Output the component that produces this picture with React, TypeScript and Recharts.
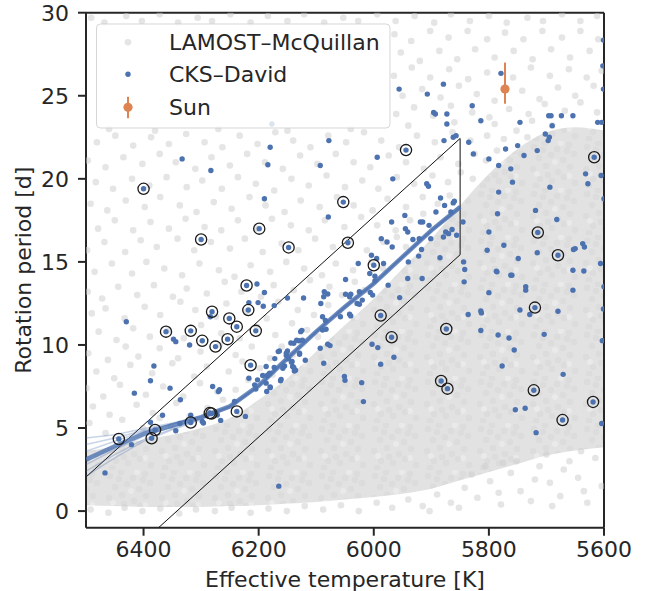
import React from 'react';
import { ComposedChart, Scatter, Area, XAxis, YAxis, ReferenceLine, ErrorBar } from 'recharts';

const FONT = '"DejaVu Sans", sans-serif';
const INK = '#262626';
const BLUE = '#4c72b0';
const ORANGE = '#dd8452';

const xTicks = [6400, 6200, 6000, 5800, 5600];
const yTicks = [0, 5, 10, 15, 20, 25, 30];

// crowded part of the LAMOST cloud (lower / upper edge of the densest region)
const denseT = [6500, 6450, 6400, 6350, 6300, 6250, 6200, 6150, 6100, 6050, 6000, 5950, 5900, 5850, 5800, 5750, 5700, 5650, 5600];
const denseLo = [0.35, 0.3, 0.25, 0.25, 0.25, 0.3, 0.35, 0.45, 0.55, 0.7, 0.85, 1.05, 1.35, 1.85, 2.35, 2.85, 3.35, 3.65, 3.85];
const denseHi = [3.6, 3.9, 4.3, 4.6, 5.0, 5.6, 6.7, 8.0, 9.6, 11.2, 12.8, 14.6, 16.4, 18.4, 20.3, 21.8, 22.8, 23.1, 22.9];

// sparse LAMOST stars (Teff, Prot)
const lamostUpperLeft: number[][] = [
  [6494, 5.3], [6466, 4.7], [6437, 5.5], [6401, 5.0], [6372, 5.6], [6352, 5.1],
  [6488, 6.3], [6459, 5.8], [6412, 6.4], [6384, 5.9], [6343, 6.5], [6320, 5.7], [6289, 6.2], [6262, 6.7],
  [6499, 7.4], [6470, 6.9], [6441, 7.6], [6396, 7.0], [6366, 7.5], [6331, 6.9], [6302, 7.7], [6272, 7.2], [6240, 7.3], [6218, 7.9],
  [6482, 8.4], [6451, 8.0], [6423, 8.8], [6385, 8.3], [6350, 8.9], [6312, 8.1], [6290, 8.7], [6252, 8.4], [6228, 9.0], [6198, 8.6], [6176, 8.2],
  [6496, 9.5], [6462, 9.1], [6431, 9.9], [6409, 9.3], [6372, 9.8], [6340, 9.2], [6301, 9.6], [6268, 10.0], [6240, 9.4], [6212, 9.9], [6180, 9.2], [6160, 9.9], [6141, 9.4],
  [6478, 10.8], [6447, 10.3], [6418, 11.0], [6389, 10.5], [6357, 10.9], [6330, 10.4], [6300, 11.2], [6265, 10.7], [6233, 10.4], [6203, 11.1], [6171, 10.6], [6142, 11.3], [6116, 10.9], [6097, 10.5],
  [6490, 11.9], [6466, 12.2], [6433, 11.6], [6398, 12.3], [6371, 11.8], [6336, 12.6], [6310, 12.1], [6274, 11.7], [6256, 12.5], [6221, 12.0], [6186, 11.6], [6166, 12.6], [6132, 12.1], [6104, 11.8], [6079, 12.4], [6060, 11.9],
  [6497, 13.2], [6472, 12.8], [6444, 13.5], [6411, 13.0], [6382, 13.6], [6349, 12.9], [6325, 13.4], [6290, 13.1], [6259, 13.8], [6230, 13.2], [6196, 12.9], [6174, 13.6], [6139, 13.3], [6111, 13.9], [6077, 13.5], [6055, 13.0], [6033, 13.8], [6016, 13.3],
  [6485, 14.4], [6455, 14.9], [6420, 14.3], [6395, 15.0], [6364, 14.6], [6333, 14.2], [6303, 14.9], [6269, 14.5], [6242, 14.1], [6214, 14.8], [6180, 14.4], [6152, 15.0], [6121, 14.6], [6090, 14.2], [6066, 14.9], [6036, 14.5], [6004, 15.0], [5984, 14.6],
  [6498, 15.7], [6468, 16.2], [6432, 15.6], [6405, 16.3], [6377, 15.9], [6341, 16.4], [6312, 15.7], [6283, 16.2], [6250, 15.8], [6224, 16.4], [6193, 15.6], [6160, 16.1], [6131, 15.7], [6102, 16.4], [6071, 15.9], [6043, 16.3], [6012, 15.7], [5983, 16.2], [5960, 16.5], [5944, 15.9],
  [6479, 17.0], [6450, 17.5], [6418, 16.9], [6388, 17.4], [6356, 17.0], [6327, 17.6], [6294, 17.1], [6265, 16.9], [6236, 17.5], [6204, 17.0], [6177, 17.6], [6144, 17.2], [6113, 16.9], [6085, 17.5], [6051, 17.1], [6022, 17.7], [5994, 17.2], [5962, 16.9], [5937, 17.5], [5914, 17.9],
  [6492, 18.5], [6463, 18.1], [6431, 18.7], [6398, 18.3], [6371, 18.9], [6337, 18.4], [6308, 18.0], [6278, 18.6], [6247, 18.2], [6216, 18.9], [6188, 18.4], [6155, 18.0], [6127, 18.7], [6094, 18.3], [6064, 18.9], [6035, 18.4], [6002, 18.1], [5976, 18.8], [5944, 18.3], [5915, 18.9], [5889, 18.5], [5868, 19.0],
  [6483, 19.8], [6453, 19.4], [6420, 20.0], [6390, 19.6], [6360, 20.1], [6325, 19.5], [6298, 19.9], [6264, 19.4], [6236, 20.1], [6205, 19.7], [6173, 19.3], [6143, 20.0], [6113, 19.6], [6082, 20.2], [6050, 19.5], [6020, 19.9], [5992, 19.4], [5960, 20.1], [5930, 19.7], [5898, 20.2], [5871, 19.8], [5849, 20.4], [5828, 20.0],
  [6497, 21.1], [6466, 20.7], [6435, 21.3], [6402, 20.9], [6372, 21.5], [6344, 21.0], [6310, 20.6], [6282, 21.3], [6250, 20.8], [6220, 21.5], [6189, 21.0], [6158, 20.6], [6128, 21.4], [6098, 20.9], [6066, 21.5], [6035, 21.0], [6006, 20.7], [5974, 21.4], [5944, 21.0], [5913, 20.6], [5884, 21.3], [5853, 20.9], [5825, 21.5], [5805, 21.1], [5786, 21.7],
  [6481, 22.2], [6449, 22.6], [6418, 22.0], [6387, 22.5], [6356, 22.1], [6326, 22.7], [6294, 22.2], [6263, 21.9], [6233, 22.6], [6202, 22.1], [6171, 22.8], [6140, 22.3], [6110, 21.9], [6079, 22.6], [6048, 22.2], [6017, 22.8], [5987, 22.3], [5956, 21.9], [5925, 22.6], [5894, 22.2], [5863, 22.8], [5832, 22.3], [5803, 22.6], [5774, 22.4], [5752, 22.9], [5733, 22.5],
  [6460, 23.0], [6380, 22.9], [6270, 23.0], [6150, 22.9], [6040, 23.0], [5940, 23.2], [5860, 23.4], [5790, 23.3], [5725, 23.5], [5690, 23.2],
];

const lamostUpperRight: number[][] = [
  [5961, 23.9], [5930, 24.3], [5897, 23.8], [5866, 24.4], [5829, 24.0], [5799, 23.7], [5765, 24.2], [5731, 23.9], [5703, 24.5], [5668, 24.1], [5641, 24.6], [5612, 24.0],
  [5950, 25.0], [5916, 25.4], [5884, 24.9], [5852, 25.6], [5821, 25.1], [5790, 24.7], [5742, 25.3], [5712, 24.8], [5680, 25.5], [5650, 25.0], [5618, 25.6],
  [5965, 26.2], [5934, 26.7], [5902, 26.1], [5869, 26.6], [5836, 26.0], [5803, 26.4], [5758, 26.1], [5727, 26.7], [5694, 26.2], [5661, 26.6], [5630, 26.1], [5604, 26.5],
  [5953, 27.6], [5920, 27.1], [5886, 27.7], [5855, 27.2], [5824, 27.8], [5790, 27.3], [5757, 27.7], [5724, 27.2], [5692, 27.8], [5659, 27.3], [5625, 27.7],
  [5964, 28.7], [5935, 28.3], [5902, 28.9], [5870, 28.5], [5837, 28.9], [5803, 28.4], [5772, 28.8], [5740, 28.4], [5707, 28.9], [5673, 28.5], [5641, 28.9], [5610, 28.4],
  [6491, 29.7], [6468, 29.4], [6430, 29.8], [6403, 29.5], [6372, 29.9], [6340, 29.4], [6306, 29.7], [6281, 29.5], [6249, 29.9], [6214, 29.4], [6184, 29.8], [6150, 29.5],
  [6121, 29.9], [6086, 29.4], [6053, 29.7], [6027, 29.5], [5994, 29.9], [5962, 29.5], [5929, 29.8], [5895, 29.4], [5866, 29.9], [5833, 29.5], [5800, 29.8], [5769, 29.4],
  [5733, 29.7], [5706, 29.5], [5673, 29.9], [5641, 29.5], [5612, 29.8],
];

const lamostLower: number[][] = [
  [6492, 0.1], [6461, -0.1], [6433, 0.2], [6402, 0.0], [6371, 0.15], [6338, -0.15], [6309, 0.1], [6276, 0.0], [6247, 0.2], [6214, -0.1],
  [6183, 0.15], [6151, 0.0], [6120, 0.3], [6088, 0.1], [6057, 0.35], [6026, 0.0], [5995, 0.5], [5968, 0.2], [5940, 0.7], [5915, 0.3],
  [5890, 1.0], [5866, 0.5], [5842, 1.4], [5820, 0.8], [5798, 1.8], [5779, 0.4], [5762, 2.3], [5745, 1.2], [5727, 0.6], [5712, 2.7],
  [5694, 1.7], [5676, 0.9], [5660, 3.0], [5645, 2.0], [5629, 0.5], [5615, 3.2], [5604, 1.5], [5752, 3.0], [5806, 2.7], [5690, 0.3],
  [5635, 1.2], [5670, 2.5], [5720, 1.9], [5783, 1.1], [5852, 0.2], [5903, 0.0], [5640, 3.6], [5700, 3.4], [5775, 2.9], [5830, 2.2],
];

// CKS stars (Teff, Prot)
const cksPts: number[][] = [
  [6333, 21.2], [6283, 20.5], [6400, 19.4], [6300, 16.35], [6199, 17.0], [6180, 21.9], [6184, 20.85], [6190, 18.8], [6148, 15.87],
  [6093, 20.8], [6078, 22.3], [6079, 17.7], [6221, 13.58], [6203, 13.67], [6190, 13.16], [6150, 12.83], [6122, 12.83], [6087, 12.9], [6177, 23.3],
  [5956, 25.4], [5907, 25.1], [5896, 24.0], [5994, 21.3], [5944, 21.73], [5967, 20.0], [5908, 19.7], [5905, 19.55], [6053, 18.6], [6045, 16.15],
  [5946, 17.8], [5969, 17.4], [5919, 17.4], [5915, 17.4], [5945, 17.0], [5941, 16.8], [5904, 17.2], [5987, 16.4], [5977, 16.2], [5968, 15.9],
  [5932, 16.35], [5921, 16.4], [5901, 16.4], [5917, 15.75], [5922, 15.35], [6004, 15.4], [5995, 15.2], [6000, 14.8], [6027, 14.9], [5940, 15.0], [5983, 14.9],
  [5779, 26.35], [5879, 25.7], [5829, 24.4], [5893, 23.9], [5873, 23.9], [5873, 23.3], [5814, 23.5], [5746, 23.4], [5696, 23.8], [5692, 23.8],
  [5690, 23.2], [5674, 23.8], [5654, 23.8], [5702, 22.7], [5695, 22.5], [5697, 22.3], [5611, 23.4], [5604, 23.4], [5602, 26.8], [5601, 25.4], [5601, 28.35],
  [5862, 22.5], [5857, 22.6], [5878, 22.3], [5835, 22.2], [5827, 21.5], [5771, 21.8], [5750, 22.0], [5716, 21.7], [5739, 21.4], [5800, 21.2],
  [5783, 20.8], [5762, 20.6], [5617, 21.3], [5632, 20.3], [5628, 19.7], [5605, 20.2], [5759, 19.8], [5694, 19.5], [5783, 19.2], [5600, 18.8],
  [5719, 18.1], [5785, 17.9], [5715, 16.77], [5682, 17.55], [5800, 16.8], [5803, 15.7], [5774, 16.0], [5716, 15.55], [5680, 15.4], [5749, 15.2],
  [5653, 15.75], [5650, 15.8], [5637, 16.1], [5634, 15.9], [5654, 14.5], [5635, 14.45], [5606, 14.9], [5844, 15.0], [5845, 17.4], [5843, 13.8],
  [5786, 14.4], [5762, 14.2], [5736, 13.5], [5736, 13.3], [5800, 13.15], [5654, 13.3], [5600, 13.5],
  [5884, 18.85], [5877, 18.4], [5892, 18.0], [5862, 18.55], [5860, 18.65], [5866, 18.0], [5875, 16.8], [5864, 16.95], [5870, 16.7], [5856, 16.6], [5879, 16.5], [5885, 15.25],
  [6430, 11.4], [6361, 10.8], [6348, 10.35], [6344, 10.2], [6318, 10.85], [6320, 10.0], [6298, 10.25], [6281, 12.0], [6284, 11.7], [6275, 9.9],
  [6251, 11.6], [6238, 11.1], [6254, 10.35], [6217, 12.55], [6201, 12.55], [6218, 12.1], [6205, 10.85], [6382, 8.73], [6388, 7.85], [6416, 7.1],
  [6354, 7.4], [6336, 6.7], [6280, 7.5], [6270, 7.2], [6268, 7.3], [6214, 8.78], [6367, 5.77], [6388, 5.35], [6380, 4.88], [6386, 4.38],
  [6443, 4.34], [6421, 4.0], [6467, 2.3], [6344, 4.84], [6337, 5.27], [6318, 5.33], [6318, 5.77], [6298, 5.4], [6296, 5.3], [6285, 5.9],
  [6282, 5.87], [6272, 5.78], [6266, 5.46], [6238, 6.0], [6242, 6.6], [6223, 5.7], [6217, 8.0], [6202, 7.9],
  [6165, 1.5], [6207, 7.6], [6205, 7.35], [6185, 8.15], [6181, 8.3], [6173, 8.64], [6187, 7.7], [6180, 7.47], [6162, 7.85],
  [6166, 9.6], [6150, 9.64], [6152, 9.5], [6142, 9.0], [6139, 8.64], [6136, 8.48], [6129, 9.5], [6119, 9.08], [6139, 10.1], [6130, 10.25],
  [6124, 10.28], [6087, 8.9], [6093, 9.8],
  [6049, 13.94], [6007, 14.3], [5998, 14.14], [5998, 13.86], [5975, 13.6], [5941, 14.0], [5916, 14.0], [5955, 12.85], [5988, 11.77], [5969, 10.46],
  [6003, 10.04], [5993, 9.84], [5965, 9.26], [5988, 8.84], [6021, 7.73], [6018, 6.59], [6051, 8.1], [6050, 7.87], [6086, 13.2], [6080, 13.07],
  [6092, 12.5], [6173, 12.37], [6192, 12.33], [6049, 13.05], [6040, 13.05], [6042, 12.9], [6025, 13.2], [6006, 13.16], [6002, 13.0], [6020, 12.7],
  [6029, 12.5], [6025, 12.45], [6058, 11.7], [6042, 11.85], [6040, 11.75], [6089, 11.7], [6084, 11.47], [6089, 10.9], [6083, 10.95], [6127, 10.8],
  [6125, 10.88], [6134, 10.28], [6144, 10.12], [6080, 10.04], [6076, 9.96], [6164, 9.64], [6172, 9.18], [6152, 9.36], [6148, 9.16], [6129, 9.44],
  [6143, 8.96], [6141, 8.7], [6138, 8.43], [6155, 8.73], [6158, 8.6], [6187, 8.7], [6193, 8.16], [6184, 8.2], [6161, 7.93], [6186, 7.2], [6180, 7.43],
  [5842, 14.54], [5787, 14.44], [5760, 14.2], [5836, 11.83], [5814, 12.05], [5813, 11.93], [5874, 10.96], [5814, 10.87], [5784, 10.6], [5765, 10.42],
  [5756, 9.7], [5746, 12.1], [5720, 12.25], [5729, 11.83], [5680, 12.03], [5704, 10.64], [5601, 12.17], [5603, 10.26], [5777, 8.73], [5671, 8.23],
  [5883, 7.83], [5872, 7.37], [5722, 7.27], [5619, 6.57], [5754, 6.1], [5737, 6.19], [5672, 5.48], [5604, 5.27], [5718, 4.72],
];

// highlighted (circled) CKS stars
const ringPts: number[][] = [
  [6400, 19.4], [6300, 16.35], [6199, 17.0], [6148, 15.87], [6221, 13.58], [5944, 21.73], [6053, 18.6], [6045, 16.15], [6000, 14.8],
  [5617, 21.3], [5715, 16.77], [5680, 15.4], [6361, 10.8], [6318, 10.85], [6298, 10.25], [6281, 12.0], [6275, 9.9], [6251, 11.6],
  [6238, 11.1], [6254, 10.35], [6218, 12.1], [6205, 10.85], [6214, 8.78], [6380, 4.88], [6386, 4.38], [6443, 4.34], [6318, 5.33],
  [6285, 5.9], [6282, 5.87], [6238, 6.0], [5988, 11.77], [5969, 10.46], [5874, 10.96], [5720, 12.25], [5883, 7.83], [5872, 7.37],
  [5722, 7.27], [5619, 6.57], [5672, 5.48],
];

// fit: median and posterior draws
const fitT = [6500, 6450, 6400, 6350, 6300, 6250, 6200, 6150, 6100, 6050, 6000, 5950, 5900, 5850];
const fitMid = [3.1, 3.9, 4.65, 5.15, 5.65, 6.3, 7.55, 9.2, 10.8, 12.3, 13.7, 15.3, 16.9, 18.3];
const fitDraws: number[][] = [
  [2.4, 3.4, 4.3, 4.95, 5.55, 6.25, 7.5, 9.15, 10.75, 12.25, 13.65, 15.25, 16.85, 18.2],
  [4.4, 4.6, 4.95, 5.3, 5.7, 6.35, 7.6, 9.25, 10.85, 12.35, 13.75, 15.35, 16.95, 18.4],
  [3.6, 4.2, 4.8, 5.25, 5.7, 6.3, 7.55, 9.2, 10.8, 12.3, 13.7, 15.3, 16.9, 18.3],
  [2.8, 3.7, 4.5, 5.05, 5.6, 6.3, 7.55, 9.2, 10.8, 12.3, 13.7, 15.3, 16.9, 18.3],
  [4.0, 4.4, 4.85, 5.25, 5.65, 6.3, 7.5, 9.2, 10.8, 12.3, 13.7, 15.3, 16.9, 18.3],
  [2.1, 3.2, 4.2, 4.9, 5.5, 6.25, 7.5, 9.15, 10.75, 12.25, 13.7, 15.3, 16.85, 18.25],
];

// selection box corners
const boxT = [6500, 5850, 5850, 6374];
const boxP = [2.05, 22.43, 15.43, -1];

const sunT = 5772;
const sunP = 25.4;
const sunErr = [0.88, 1.6];

const toObj = (a: number[][]) => a.map(([T, P]) => ({ T, P }));
const denseTable = denseT.map((T, i) => ({ T, range: [denseLo[i], denseHi[i]] }));
const lamostData = toObj([...lamostUpperLeft, ...lamostUpperRight, ...lamostLower]);
const cksData = toObj(cksPts);
const ringData = toObj(ringPts);
const midData = fitT.map((T, i) => ({ T, P: fitMid[i] }));
const drawData = fitDraws.map((d) => fitT.map((T, i) => ({ T, P: d[i] })));
const boxData = boxT.map((T, i) => ({ T, P: boxP[i] }));
const sunData = [{ T: sunT, P: sunP, err: sunErr }];

const GrayDot = (p: any) => <circle cx={p.cx} cy={p.cy} r={3.3} fill="#cbcbcb" fillOpacity={0.5} />;
const BlueDot = (p: any) => <circle cx={p.cx} cy={p.cy} r={2.7} fill={BLUE} />;
const Ring = (p: any) => <circle cx={p.cx} cy={p.cy} r={5.6} fill="none" stroke="#1a1a1a" strokeWidth={1.3} />;
const SunDot = (p: any) => <circle cx={p.cx} cy={p.cy} r={4.6} fill={ORANGE} />;
const NoDot = () => <g />;

const tickStyle = { fill: INK, fontSize: 22, fontFamily: FONT };

// mottled texture used to fill the crowded region of the cloud
const speckle = [
  [4, 6], [15, 2], [27, 8], [39, 4], [9, 17], [21, 14], [33, 19], [44, 13], [3, 28], [16, 25], [28, 31], [40, 26],
  [10, 38], [22, 40], [34, 36], [45, 42], [6, 45], [18, 34], [37, 10], [13, 9],
];
const holes = [[25, 21], [39, 35], [7, 33], [31, 2]];

export default function App() {
  return (
    <div style={{ position: 'absolute', left: 0, top: 0, width: 648, height: 591, background: '#fff' }}>
      <svg width={0} height={0} style={{ position: 'absolute' }}>
        <defs>
          <pattern id="lamostDense" width={53} height={47} patternUnits="userSpaceOnUse">
            <rect width={53} height={47} fill="#e2e2e2" />
            {holes.map(([x, y], i) => (
              <circle key={'h' + i} cx={x} cy={y} r={3} fill="#eaeaea" />
            ))}
            {speckle.map(([x, y], i) => (
              <circle key={'s' + i} cx={x} cy={y} r={3.3} fill="#cfcfcf" fillOpacity={0.3} />
            ))}
          </pattern>
        </defs>
      </svg>
      <ComposedChart
        width={648}
        height={591}
        data={denseTable}
        margin={{ top: 12.7, right: 44, bottom: 0, left: 0 }}
      >
        <XAxis
          type="number"
          dataKey="T"
          domain={[5600, 6500]}
          reversed
          allowDataOverflow
          ticks={xTicks}
          interval={0}
          height={63.3}
          tickSize={8}
          tickMargin={6}
          axisLine={{ stroke: INK, strokeWidth: 2 }}
          tickLine={{ stroke: INK, strokeWidth: 2 }}
          tick={tickStyle}
          label={{ value: 'Effective temperature [K]', position: 'insideBottom', offset: 4.5, fill: INK, fontSize: 22, fontFamily: FONT }}
        />
        <YAxis
          type="number"
          dataKey="P"
          domain={[-1, 30]}
          allowDataOverflow
          ticks={yTicks}
          interval={0}
          width={86}
          tickSize={8}
          tickMargin={9}
          axisLine={{ stroke: INK, strokeWidth: 2 }}
          tickLine={{ stroke: INK, strokeWidth: 2 }}
          tick={tickStyle}
          label={{ value: 'Rotation period [d]', angle: -90, position: 'insideLeft', offset: 23, fill: INK, fontSize: 22, fontFamily: FONT, style: { textAnchor: 'middle' } }}
        />
        <Area dataKey="range" type="monotone" stroke="none" fill="url(#lamostDense)" fillOpacity={1} isAnimationActive={false} dot={false} activeDot={false} />
        <Scatter data={lamostData} shape={GrayDot} isAnimationActive={false} />
        <Scatter data={boxData} shape={NoDot} line={{ stroke: '#111111', strokeWidth: 1 }} lineType="joint" fill="#111111" isAnimationActive={false} />
        {drawData.map((d, i) => (
          <Scatter key={i} data={d} shape={NoDot} line={{ stroke: BLUE, strokeWidth: 1.5, strokeOpacity: 0.3 }} lineType="joint" fill={BLUE} isAnimationActive={false} />
        ))}
        <Scatter data={midData} shape={NoDot} line={{ stroke: BLUE, strokeWidth: 4.5, strokeOpacity: 0.8 }} lineType="joint" fill={BLUE} isAnimationActive={false} />
        <Scatter data={cksData} shape={BlueDot} isAnimationActive={false} />
        <Scatter data={ringData} shape={Ring} isAnimationActive={false} />
        <Scatter data={sunData} shape={SunDot} fill={ORANGE} isAnimationActive={false}>
          <ErrorBar dataKey="err" direction="y" width={0} stroke={ORANGE} strokeWidth={2} />
        </Scatter>
        <ReferenceLine y={30} stroke={INK} strokeWidth={2} />
        <ReferenceLine x={5600} stroke={INK} strokeWidth={2} />
      </ComposedChart>
      <svg width={648} height={591} style={{ position: 'absolute', left: 0, top: 0, pointerEvents: 'none' }}>
        <rect x={96.5} y={24} width={293.5} height={104} rx={4} fill="#ffffff" fillOpacity={0.8} stroke="#cccccc" strokeOpacity={0.8} strokeWidth={1} />
        <circle cx={128} cy={42.3} r={3.3} fill="#cbcbcb" fillOpacity={0.5} />
        <text x={169} y={50.3} fill={INK} fontSize={22} fontFamily={FONT}>LAMOST–McQuillan</text>
        <circle cx={128} cy={74.3} r={2.7} fill={BLUE} />
        <text x={169} y={81.7} fill={INK} fontSize={22} fontFamily={FONT}>CKS–David</text>
        <line x1={128} y1={96.7} x2={128} y2={118.3} stroke={ORANGE} strokeWidth={2} />
        <circle cx={128} cy={107.3} r={4.6} fill={ORANGE} />
        <text x={169} y={115} fill={INK} fontSize={22} fontFamily={FONT}>Sun</text>
      </svg>
    </div>
  );
}
